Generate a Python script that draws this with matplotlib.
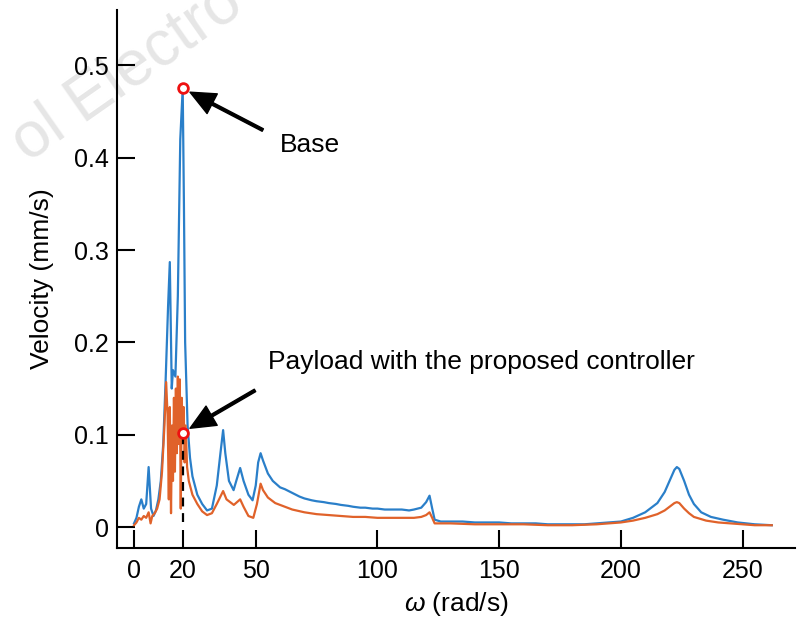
import matplotlib
matplotlib.use('Agg')
import matplotlib.pyplot as plt

plt.rcParams['font.family'] = ['Liberation Sans', 'DejaVu Sans']
plt.rcParams['mathtext.fontset'] = 'custom'
plt.rcParams['mathtext.it'] = 'Liberation Sans:italic'
plt.rcParams['mathtext.rm'] = 'Liberation Sans'

# Base velocity spectrum (blue)
base_w = [0, 1, 2, 3, 4, 5, 6, 7, 8, 9, 10, 11, 12, 13, 14, 14.7, 15.5, 16, 17, 18, 19, 20,
          20.5, 21, 22, 23, 24, 25, 26, 28, 30, 32, 34, 35.5, 36.6, 37.5, 39, 40.9, 42, 43.6,
          45, 47, 48.7, 50, 51, 52, 53, 55, 57, 60, 62, 65, 68, 70, 73, 75, 78, 80, 83, 85,
          88, 90, 93, 95, 98, 100, 103, 105, 108, 110, 113, 115, 118, 120, 121.4, 122.5,
          123.5, 126, 130, 135, 140, 145, 150, 155, 160, 165, 170, 175, 180, 185, 190, 195,
          200, 205, 210, 215, 218, 220, 222, 223, 224, 226, 228, 230, 233, 237, 242, 248,
          255, 262]
base_v = [0.004, 0.010, 0.022, 0.030, 0.020, 0.025, 0.065, 0.020, 0.012, 0.018, 0.030, 0.050,
          0.090, 0.160, 0.240, 0.287, 0.150, 0.170, 0.163, 0.250, 0.420, 0.475,
          0.350, 0.200, 0.110, 0.075, 0.055, 0.045, 0.035, 0.025, 0.018, 0.020, 0.045, 0.080,
          0.105, 0.080, 0.050, 0.040, 0.050, 0.064,
          0.050, 0.035, 0.029, 0.045, 0.070, 0.080, 0.072, 0.058, 0.050, 0.043, 0.041, 0.037,
          0.033, 0.031, 0.029, 0.028, 0.027, 0.026, 0.025, 0.024,
          0.023, 0.022, 0.021, 0.021, 0.020, 0.020, 0.019, 0.019, 0.019, 0.019, 0.018, 0.019,
          0.021, 0.027, 0.034, 0.020,
          0.008, 0.006, 0.006, 0.006, 0.005, 0.005, 0.005, 0.004, 0.004, 0.004, 0.003, 0.003,
          0.003, 0.003, 0.004, 0.005,
          0.006, 0.010, 0.016, 0.026, 0.038, 0.050, 0.062, 0.065, 0.063, 0.050, 0.035, 0.025,
          0.016, 0.011, 0.008, 0.005,
          0.003, 0.002]

# Payload velocity with the proposed controller (orange)
pay_w = [0, 1, 2, 3, 4, 5, 6, 6.8, 7.5, 8.5, 9.5, 10.5, 11.5, 12.5, 13.2, 13.8, 14.3, 14.7,
         15.2, 15.6, 16.0, 16.4, 16.8, 17.2, 17.6, 18.0, 18.4, 18.8, 19.2, 19.6, 20.0, 20.4,
         20.8, 21.2, 21.8, 22.5, 24, 26, 28, 30, 32, 34, 36.6, 38, 41, 43.6, 45, 47, 49,
         50.5, 52, 53, 55, 58, 60, 65, 70, 75, 80, 85, 90, 95, 100, 105, 110, 115, 118, 120,
         121.4, 122.5, 123.5, 130, 140, 150, 160, 170, 180, 190, 200, 205, 210, 215, 218,
         220, 222, 223, 224, 226, 228, 230, 235, 240, 245, 250, 255, 262]
pay_v = [0.002, 0.005, 0.010, 0.008, 0.012, 0.010, 0.016, 0.004, 0.012, 0.015, 0.020, 0.030,
         0.060, 0.110, 0.157, 0.120, 0.030, 0.130,
         0.015, 0.110, 0.050, 0.140, 0.060, 0.150, 0.080, 0.163, 0.090, 0.160, 0.020, 0.140,
         0.100, 0.130,
         0.070, 0.110, 0.065, 0.050, 0.035, 0.025, 0.017, 0.013, 0.015, 0.025, 0.039, 0.030,
         0.024, 0.030, 0.022, 0.012, 0.010,
         0.025, 0.047, 0.040, 0.032, 0.026, 0.024, 0.019, 0.016, 0.014, 0.013, 0.012, 0.011,
         0.011, 0.010, 0.010, 0.010, 0.010, 0.011, 0.013,
         0.016, 0.010, 0.004, 0.004, 0.003, 0.003, 0.003, 0.002, 0.002, 0.003, 0.005, 0.007,
         0.010, 0.014, 0.018,
         0.022, 0.026, 0.027, 0.026, 0.020, 0.015, 0.011, 0.007, 0.005, 0.004, 0.003, 0.002,
         0.002]

x_ticks = [0, 20, 50, 100, 150, 200, 250]
y_ticks = [0, 0.1, 0.2, 0.3, 0.4, 0.5]
y_tick_labels = ['0', '0.1', '0.2', '0.3', '0.4', '0.5']

fig = plt.figure(figsize=(8.04, 6.25), dpi=100)
ax = fig.add_axes([0.1455, 0.123, 0.8435, 0.861])
ax.set_facecolor('none')

# faint watermark behind everything
fig.text(0.158, 0.885, 'ol Electro', fontsize=46, color='#e6e6e6',
         rotation=35, ha='center', va='center', zorder=-1)

ax.plot(base_w, base_v, color='#2a7fc9', lw=1.6, zorder=3)
ax.plot(pay_w, pay_v, color='#e0622a', lw=1.6, zorder=4)

ax.plot([20, 20], [0.005, 0.1], color='black', lw=1.6, ls=(0, (4, 3)), zorder=5)
ax.plot([20, 20], [0.475, 0.102], 'o', ms=7, mfc='white', mec='#ee1111', mew=2, zorder=6)

arrow = dict(facecolor='black', edgecolor='black', width=2, headwidth=16,
             headlength=18, shrink=0)
ax.annotate('', xy=(23.0, 0.471), xytext=(52.9, 0.43), arrowprops=arrow, zorder=7)
ax.annotate('', xy=(23.0, 0.107), xytext=(49.7, 0.148), arrowprops=arrow, zorder=7)
ax.text(59.9, 0.414, 'Base', fontsize=19, ha='left', va='center')
ax.text(55.0, 0.179, 'Payload with the proposed controller', fontsize=19,
        ha='left', va='center')

ax.set_xlim(-7.0, 271.6)
ax.set_ylim(-0.0228, 0.56)
ax.set_xticks(x_ticks)
ax.set_yticks(y_ticks)
ax.set_yticklabels(y_tick_labels)
ax.spines['top'].set_visible(False)
ax.spines['right'].set_visible(False)
for s in ['left', 'bottom']:
    ax.spines[s].set_linewidth(1.5)
ax.tick_params(direction='in', length=13, width=1.5, labelsize=18)
ax.tick_params(axis='y', pad=6)
ax.tick_params(axis='x', pad=8)

ax.set_ylabel('Velocity (mm/s)', fontsize=19, labelpad=14)
ax.set_xlabel(r'$\omega$ (rad/s)', fontsize=19, labelpad=5)

plt.savefig('out.png', dpi=100)
